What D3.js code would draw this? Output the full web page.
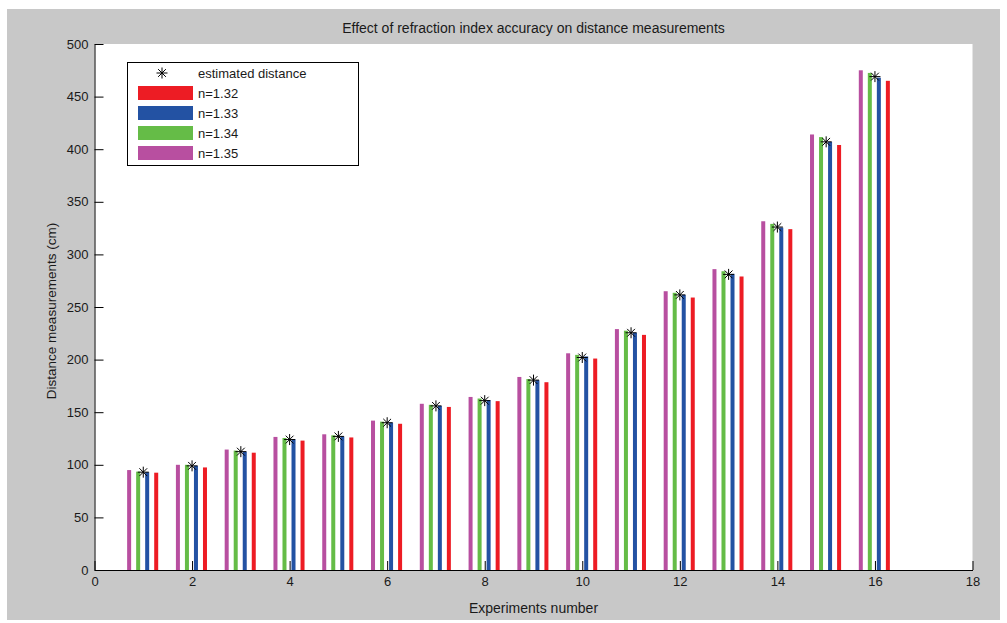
<!DOCTYPE html>
<html>
<head>
<meta charset="utf-8">
<script src="https://cdn.jsdelivr.net/npm/d3@7"></script>
<style>
  body { margin: 0; background: #fff; }
  text { font-family: "Liberation Sans", Arial, sans-serif; fill: #1a1a1a; }
</style>
</head>
<body>
<div id="chart"></div>
<script>
const experiments = [1, 2, 3, 4, 5, 6, 7, 8, 9, 10, 11, 12, 13, 14, 15, 16];
const n135 = [95, 100, 114.5, 126.5, 129, 142, 158, 164.5, 183.5, 206, 229, 265, 286, 331.5, 414, 475];
const n134 = [93.5, 100, 113.5, 125.5, 128, 141, 157, 163, 181.5, 204.5, 227.5, 263.5, 284, 329, 411.5, 472.5];
const n133 = [93, 99, 112.5, 124.5, 127, 140, 156, 161.5, 180.5, 203, 225.5, 261.5, 281.5, 325.5, 407, 468];
const n132 = [92.5, 97.5, 111.5, 123, 126, 139, 155, 160.5, 178.5, 201, 223.5, 259, 279, 324, 404, 465];
const estimated = [93, 99, 112.5, 124, 127, 140, 156, 161, 180.5, 202, 225.5, 261.5, 281, 326, 407, 469];

// plotted left to right within a group
const barSeries = [
  { name: "n=1.35", values: n135, color: "#b84fa0" },
  { name: "n=1.34", values: n134, color: "#65bc47" },
  { name: "n=1.33", values: n133, color: "#2352a3" },
  { name: "n=1.32", values: n132, color: "#ed1c24" }
];
// legend order
const legendSeries = ["n=1.32", "n=1.33", "n=1.34", "n=1.35"];

const xTicks = [0, 2, 4, 6, 8, 10, 12, 14, 16, 18];
const yTicks = [0, 50, 100, 150, 200, 250, 300, 350, 400, 450, 500];

const W = 1007, H = 623;
const svg = d3.select("#chart").append("svg")
  .attr("width", W).attr("height", H);

// figure background
svg.append("rect")
  .attr("x", 7).attr("y", 9).attr("width", 993).attr("height", 611)
  .attr("fill", "#c8c8c8");

const x = d3.scaleLinear().domain([0, 18]).range([94.5, 972.5]);
const y = d3.scaleLinear().domain([0, 500]).range([570, 44]);
const sub = d3.scalePoint().domain(barSeries.map(s => s.name)).range([-0.29, 0.265]);
const barW = 4;

svg.append("rect")
  .attr("x", x(0)).attr("y", y(500))
  .attr("width", x(18) - x(0)).attr("height", y(0) - y(500))
  .attr("fill", "#fff");

// bars
barSeries.forEach(s => {
  svg.append("g").selectAll("rect")
    .data(experiments.map((e, i) => ({ e, v: s.values[i] })))
    .join("rect")
    .attr("x", d => x(d.e + sub(s.name)) - barW / 2)
    .attr("y", d => y(d.v))
    .attr("width", barW)
    .attr("height", d => y(0) - y(d.v))
    .attr("fill", s.color);
});

// asterisk marker like matlab '*'
function star(r) {
  const p = d3.path();
  const k = r * Math.SQRT1_2;
  p.moveTo(-r, 0); p.lineTo(r, 0);
  p.moveTo(0, -r); p.lineTo(0, r);
  p.moveTo(-k, -k); p.lineTo(k, k);
  p.moveTo(-k, k); p.lineTo(k, -k);
  return p.toString();
}

svg.append("g").selectAll("path")
  .data(experiments.map((e, i) => ({ e, v: estimated[i] })))
  .join("path")
  .attr("transform", d => `translate(${x(d.e)},${y(d.v)})`)
  .attr("d", star(5.5))
  .attr("stroke", "#000")
  .attr("stroke-width", 1)
  .attr("fill", "none");

// axes, ticks pointing inward
const xAxis = svg.append("g")
  .attr("transform", `translate(0,${y(0)})`)
  .call(d3.axisBottom(x).tickValues(xTicks).tickSizeInner(-9).tickSizeOuter(0).tickPadding(7));
const yAxis = svg.append("g")
  .attr("transform", `translate(${x(0)},0)`)
  .call(d3.axisLeft(y).tickValues(yTicks).tickSizeInner(-9).tickSizeOuter(0).tickPadding(6));

[xAxis, yAxis].forEach(a => {
  a.selectAll("text").style("font-size", "13px").attr("fill", "#1a1a1a")
    .style("font-family", "'Liberation Sans', Arial, sans-serif");
  a.selectAll("line, path").attr("stroke", "#000");
});

// titles
svg.append("text")
  .attr("x", (x(0) + x(18)) / 2).attr("y", 33)
  .attr("text-anchor", "middle").style("font-size", "14px")
  .text("Effect of refraction index accuracy on distance measurements");

svg.append("text")
  .attr("x", (x(0) + x(18)) / 2).attr("y", 613)
  .attr("text-anchor", "middle").style("font-size", "14px")
  .text("Experiments number");

svg.append("text")
  .attr("transform", `translate(56,${(y(0) + y(500)) / 2 + 4}) rotate(-90)`)
  .attr("text-anchor", "middle").style("font-size", "13.5px")
  .text("Distance measurements (cm)");

// legend
const lg = svg.append("g").attr("transform", "translate(127,62)");
lg.append("rect")
  .attr("x", 0.5).attr("y", 0.5).attr("width", 231).attr("height", 103)
  .attr("fill", "#fff").attr("stroke", "#000");
lg.append("path")
  .attr("transform", "translate(35,11)")
  .attr("d", star(5.5)).attr("stroke", "#000").attr("fill", "none");
lg.append("text").attr("x", 71).attr("y", 16).style("font-size", "13px")
  .text("estimated distance");
legendSeries.forEach((name, i) => {
  const s = barSeries.find(b => b.name === name);
  const top = 24 + i * 20;
  lg.append("rect")
    .attr("x", 11).attr("y", top).attr("width", 55).attr("height", 14)
    .attr("fill", s.color);
  lg.append("text").attr("x", 71).attr("y", top + 12).style("font-size", "13px")
    .text(name);
});
</script>
</body>
</html>
